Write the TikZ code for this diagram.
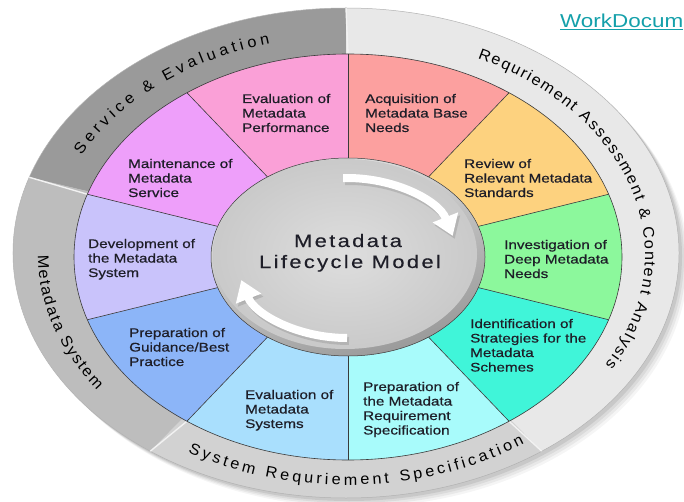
\documentclass[tikz,border=0pt]{standalone}
\usepackage{fontspec}
\setmainfont{Liberation Sans}
\newfontfamily\labfont[FakeStretch=1.22,FakeBold=0.6]{Liberation Sans}
\newfontfamily\wmfont[FakeStretch=1.2]{Liberation Sans}
\newfontfamily\titlefont[FakeStretch=1.22,LetterSpace=13,FakeBold=0.2]{Liberation Sans}
\newfontfamily\ringfont[FakeStretch=1.05]{Liberation Sans}
\usetikzlibrary{decorations.text,arrows.meta}
\definecolor{cEvalPerf}{HTML}{FAA0D7}
\definecolor{cAcq}{HTML}{FCA09F}
\definecolor{cRev}{HTML}{FDD27F}
\definecolor{cInv}{HTML}{8CF89C}
\definecolor{cIdent}{HTML}{40F5D9}
\definecolor{cPrepReq}{HTML}{A8FBFB}
\definecolor{cEvalSys}{HTML}{A9DFFD}
\definecolor{cPrepGuid}{HTML}{8CB5F8}
\definecolor{cDev}{HTML}{C9C3FB}
\definecolor{cMaint}{HTML}{EE9FFA}
\definecolor{gSE}{HTML}{9A9A9A}
\definecolor{gRA}{HTML}{E8E8E8}
\definecolor{gSRS}{HTML}{D2D2D2}
\definecolor{gMS}{HTML}{BDBDBD}
\definecolor{labtext}{HTML}{1E1E28}
\definecolor{wmteal}{HTML}{14A0AA}
\definecolor{segline}{HTML}{3A3A3A}
\newcommand\ringseg[3]{\fill[#3] ([shift={(348,244)}]#1:274 and 203) arc[start angle=#1, end angle=#2, x radius=274, y radius=203] -- ([shift={(348,244)}]#2:137 and 99) arc[start angle=#2, end angle=#1, x radius=137, y radius=99] -- cycle;}
\newcommand\graysec[3]{\fill[#3] (346,248) -- ([shift={(346,248)}]#1:333 and 245) arc[start angle=#1, end angle=#2, x radius=333, y radius=245] -- cycle;}
\begin{document}
\begin{tikzpicture}[x=1pt,y=1pt,
  lab/.style={font=\labfont\fontsize{12.5}{14.5}\selectfont, align=left, anchor=base west, inner sep=0pt, text=labtext},
  ringtext/.style={decorate, decoration={text along path, text align={fit to path}, text={|\ringfont\fontsize{15.5}{18}\selectfont|#1}}},
  whitearrow/.style={white, line width=8pt, -{Triangle[length=20pt,width=26pt]}},
  arrowshadow/.style={black!35, line width=8pt, opacity=0.6, -{Triangle[length=20pt,width=26pt]}}
]
\useasboundingbox (0,0) rectangle (684,501);
\fill[white] (0,0) rectangle (684,501);
% drop shadow of the disc
\foreach \s/\o in {9/0.04,7/0.05,5/0.06,3/0.08}
  \fill[black, opacity=\o] (346+\s,248-\s) ellipse[x radius=333, y radius=245];
% outer gray sectors
\graysec{90}{162}{gSE}
\graysec{162}{234}{gMS}
\graysec{234}{306}{gSRS}
\graysec{-54}{90}{gRA}
\draw[black!30, line width=0.5pt] (346,248) ellipse[x radius=333, y radius=245];
% separators in the gray ring
\foreach \a in {90,162,234,306}
  \draw[white!95!black, line width=1.4pt] ([shift={(348,244)}]\a:274 and 203) -- ([shift={(346,248)}]\a:333 and 245);
% coloured segments
\ringseg{90}{126}{cEvalPerf}
\ringseg{54}{90}{cAcq}
\ringseg{18}{54}{cRev}
\ringseg{-18}{18}{cInv}
\ringseg{-54}{-18}{cIdent}
\ringseg{-90}{-54}{cPrepReq}
\ringseg{-126}{-90}{cEvalSys}
\ringseg{-162}{-126}{cPrepGuid}
\ringseg{162}{198}{cDev}
\ringseg{126}{162}{cMaint}
\foreach \a in {90,54,18,-18,-54,-90,-126,-162,162,126}
  \draw[segline, line width=0.6pt] ([shift={(348,244)}]\a:137 and 99) -- ([shift={(348,244)}]\a:274 and 203);
\draw[segline, line width=0.6pt] (348,244) ellipse[x radius=274, y radius=203];
% inner disc
\shade[top color=white!90!black, bottom color=black!40, shading angle=20] (348,244) ellipse[x radius=137, y radius=99];
\shade[inner color=white!87!black, outer color=white!79!black] (345,247) ellipse[x radius=132, y radius=95];
\draw[segline, line width=0.5pt] (348,244) ellipse[x radius=137, y radius=99];
% arrows
\draw[arrowshadow] ([shift={(349,240)}]92:110 and 80) arc[start angle=92, end angle=16, x radius=110, y radius=80];
\draw[whitearrow] ([shift={(347,243)}]92:110 and 80) arc[start angle=92, end angle=16, x radius=110, y radius=80];
\draw[arrowshadow] ([shift={(349,240)}]270:110 and 80) arc[start angle=270, end angle=196, x radius=110, y radius=80];
\draw[whitearrow] ([shift={(347,243)}]270:110 and 80) arc[start angle=270, end angle=196, x radius=110, y radius=80];
% title
\node[font=\titlefont\fontsize{18}{21}\selectfont, text=labtext, anchor=base, inner sep=0pt] (t1) at (348,254) {Metadata};
\node[font=\titlefont\fontsize{18}{21}\selectfont, text=labtext, anchor=base, inner sep=0pt] (t2) at (350,233) {Lifecycle Model};
% segment labels (anchored at the baseline of their last line)
\node[lab] (l1) at (242,369) {Evaluation of\\Metadata\\Performance};
\node[lab] (l2) at (365,369) {Acquisition of\\Metadata Base\\Needs};
\node[lab] (l3) at (464,304) {Review of\\Relevant Metadata\\Standards};
\node[lab] (l4) at (504,223) {Investigation of\\Deep Metadata\\Needs};
\node[lab] (l5) at (470,129.5) {Identification of\\Strategies for the\\Metadata\\Schemes};
\node[lab] (l6) at (363,66.5) {Preparation of\\the Metadata\\Requirement\\Specification};
\node[lab] (l7) at (245,73) {Evaluation of\\Metadata\\Systems};
\node[lab] (l8) at (129,135) {Preparation of\\Guidance/Best\\Practice};
\node[lab] (l9) at (88,224) {Development of\\the Metadata\\System};
\node[lab] (l10) at (128,304) {Maintenance of\\Metadata\\Service};
% ring labels
\path[ringtext={Service {\&} Evaluation}] ([shift={(347,246)}]153:298 and 219) arc[start angle=153, end angle=105, x radius=298, y radius=219];
\path[ringtext={Requriement Assessment {\&} Content Analysis}] ([shift={(347,246)}]64:298 and 219) arc[start angle=64, end angle=-30, x radius=298, y radius=219];
\path[ringtext={Metadata System}] ([shift={(347,246)}]180:309 and 230) arc[start angle=180, end angle=216, x radius=309, y radius=230];
\path[ringtext={System Requriement Specification}] ([shift={(347,246)}]-121:309 and 230) arc[start angle=-121, end angle=-55, x radius=309, y radius=230];
% watermark
\node[font=\wmfont\fontsize{18.7}{22}\selectfont, text=wmteal, anchor=base west, inner sep=0pt] (wm) at (560,473) {\underline{WorkDocum}};
\end{tikzpicture}
\end{document}
